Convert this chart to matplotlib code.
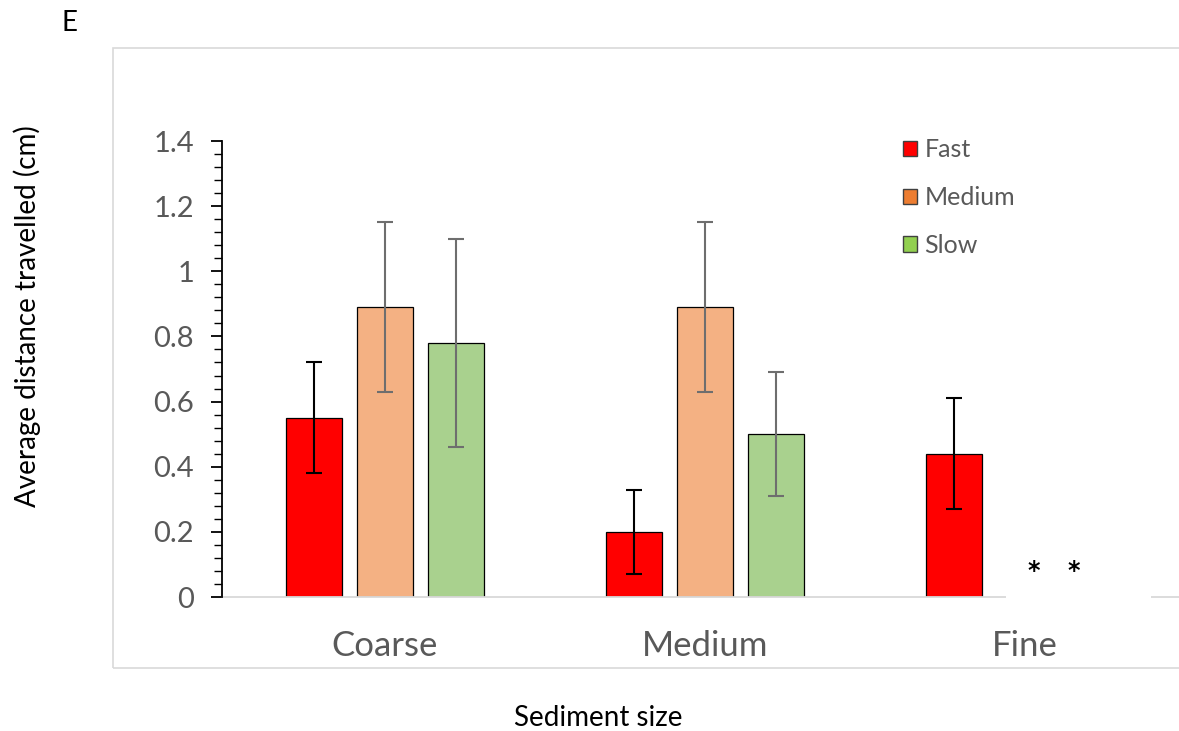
import numpy as np
import matplotlib
matplotlib.use("Agg")
import matplotlib.pyplot as plt
from matplotlib.patches import Rectangle, Patch
from matplotlib.ticker import MultipleLocator

plt.rcParams['font.family'] = ['Lato', 'DejaVu Sans']

categories = ["Coarse", "Medium", "Fine"]
series_names = ["Fast", "Medium", "Slow"]
fast = [0.55, 0.20, 0.44]
medium = [0.89, 0.89, np.nan]
slow = [0.78, 0.50, np.nan]
fast_err = [0.17, 0.13, 0.17]
medium_err = [0.26, 0.26, np.nan]
slow_err = [0.32, 0.19, np.nan]

bar_colors = ["#FF0000", "#F4B183", "#A9D18E"]
legend_colors = ["#FF0000", "#ED7D31", "#92D050"]
err_colors = ["#000000", "#6E6E6E", "#6E6E6E"]

W, H = 1179, 731
fig = plt.figure(figsize=(W / 100, H / 100), dpi=100)

# light frame around the chart area
fig.patches.append(Rectangle((113 / W, 1 - 668 / H), 1.2, (668 - 48) / H,
                             transform=fig.transFigure, fill=False,
                             edgecolor="#D9D9D9", linewidth=1.2))

ax = fig.add_axes([222 / W, 1 - 597 / H, (W - 222) / W, 456 / H])
ax.set_xlim(-0.509, 2.481)
ax.set_ylim(0, 1.4)

x = np.arange(len(categories))
offset = 0.222
width = 0.175
for i, (vals, errs) in enumerate(zip([fast, medium, slow], [fast_err, medium_err, slow_err])):
    pos = x + (i - 1) * offset
    ax.bar(pos, vals, width, color=bar_colors[i], edgecolor="black", linewidth=0.9, zorder=2)
    ax.errorbar(pos, vals, yerr=errs, fmt="none", ecolor=err_colors[i],
                elinewidth=1.5, capsize=6, capthick=1.5, zorder=3)

for s in ["top", "right"]:
    ax.spines[s].set_visible(False)
ax.spines["left"].set_color("black")
ax.spines["left"].set_linewidth(1.3)
ax.spines["bottom"].set_color("#D9D9D9")
ax.spines["bottom"].set_linewidth(1.3)
ax.spines["left"].set_zorder(5)

ax.yaxis.set_minor_locator(MultipleLocator(0.04))
ax.set_yticks(np.arange(0, 1.41, 0.2))
ax.set_yticklabels(["0", "0.2", "0.4", "0.6", "0.8", "1", "1.2", "1.4"])
ax.tick_params(axis="y", which="major", length=8, width=1.3, color="black",
               labelsize=21, labelcolor="#595959", pad=12)
ax.tick_params(axis="y", which="minor", length=5.5, width=1.0, color="black")

ax.set_xticks(x)
ax.set_xticklabels(categories)
ax.tick_params(axis="x", length=0, labelsize=25, labelcolor="#595959", pad=24)

# text box with asterisks for the missing Fine bars
ax.add_patch(Rectangle((1.941, -0.02), 0.453, 0.17, facecolor="white",
                       edgecolor="none", zorder=6, clip_on=False))
for xs in [2.028, 2.153]:
    ax.text(xs, 0.058, "*", ha="center", va="baseline", fontsize=17,
            family="DejaVu Sans", fontweight="bold", color="black", zorder=7)

handles = [Patch(facecolor=c, edgecolor="#404040", linewidth=1.0) for c in legend_colors]
leg = ax.legend(handles, series_names, loc="upper left", bbox_to_anchor=(0.7116, 1.006),
                borderaxespad=0, borderpad=0,
                frameon=False, fontsize=18, labelcolor="#595959",
                handlelength=0.56, handleheight=0.56, handletextpad=0.3,
                labelspacing=0.99)

fig.text(27 / W, 1 - 316 / H, "Average distance travelled (cm)", rotation=90,
         ha="center", va="center", fontsize=20, color="black")
fig.text(598 / W, 1 - 718 / H, "Sediment size", ha="center", va="center",
         fontsize=20, color="black")
fig.text(70 / W, 1 - 23 / H, "E", ha="center", va="center", fontsize=20, color="black")

fig.savefig("out.png", dpi=100)
